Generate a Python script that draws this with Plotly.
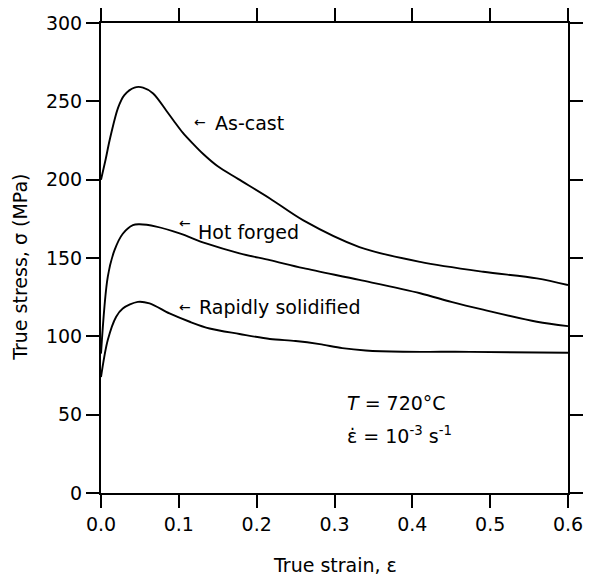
import plotly.graph_objects as go

# ---- data ----
as_cast_strain = [0.0, 0.006, 0.011, 0.022, 0.030, 0.043, 0.054, 0.067, 0.084, 0.095, 0.105, 0.118, 0.131, 0.15, 0.176, 0.217, 0.26, 0.332, 0.41, 0.491, 0.56, 0.6]
as_cast_stress = [200, 213, 225, 246, 254, 258.8, 258.8, 255, 244, 236.5, 230, 223, 216.5, 208.5, 200.5, 188, 174, 157, 147.5, 141.2, 137, 132.7]

hot_forged_strain = [0.0, 0.0087, 0.0174, 0.028, 0.041, 0.0495, 0.071, 0.101, 0.135, 0.178, 0.217, 0.26, 0.332, 0.41, 0.45, 0.491, 0.56, 0.6]
hot_forged_stress = [89, 138, 155, 165.5, 171, 171.5, 170, 165.7, 159.3, 153, 148.6, 143.5, 136, 127.5, 122, 117, 109.3, 106.5]

rapid_strain = [0.0, 0.0087, 0.0195, 0.028, 0.0473, 0.0624, 0.088, 0.114, 0.1395, 0.178, 0.217, 0.25, 0.281, 0.31, 0.34, 0.388, 0.474, 0.6]
rapid_stress = [74, 97.6, 112.5, 117.8, 122, 121, 114.6, 109.3, 105, 101.5, 98.3, 97, 95, 92.5, 91, 90.2, 90.1, 89.5]

x_ticks = [0.0, 0.1, 0.2, 0.3, 0.4, 0.5, 0.6]
y_ticks = [0, 50, 100, 150, 200, 250, 300]

FONT = "DejaVu Sans"

fig = go.Figure()
for xs, ys in [(as_cast_strain, as_cast_stress),
               (hot_forged_strain, hot_forged_stress),
               (rapid_strain, rapid_stress)]:
    fig.add_trace(go.Scatter(x=xs, y=ys, mode="lines",
                             line=dict(color="black", width=1.9, shape="spline", smoothing=0.9),
                             showlegend=False, hoverinfo="skip"))

axis_common = dict(showline=True, linecolor="black", linewidth=2, mirror="ticks",
                   ticks="outside", ticklen=13, tickwidth=2, tickcolor="black",
                   showgrid=False, zeroline=False, automargin=False,
                   tickfont=dict(family=FONT, size=19, color="black"))

fig.update_xaxes(range=[0, 0.6], tickvals=x_ticks, ticktext=[f"{v:.1f}" for v in x_ticks], **axis_common)
fig.update_yaxes(range=[0, 300], tickvals=y_ticks, ticktext=[str(v) for v in y_ticks], **axis_common)

ann_font = dict(family=FONT, size=19, color="black")
arrow_font = dict(family=FONT, size=14, color="black")
annotations = [
    dict(x=0.1438, y=236, text="As-cast", xanchor="left", yanchor="middle", font=ann_font),
    dict(x=0.1219, y=166.5, text="Hot forged", xanchor="left", yanchor="middle", font=ann_font),
    dict(x=0.1228, y=118.6, text="Rapidly solidified", xanchor="left", yanchor="middle", font=ann_font),
    dict(x=0.1268, y=236.8, text="←", xanchor="center", yanchor="middle", font=arrow_font),
    dict(x=0.1074, y=172.4, text="←", xanchor="center", yanchor="middle", font=arrow_font),
    dict(x=0.1074, y=118.8, text="←", xanchor="center", yanchor="middle", font=arrow_font),
    dict(x=0.313, y=57.4, text="<i>T</i> = 720°C", xanchor="left", yanchor="middle", font=ann_font),
    dict(x=0.313, y=37, text="ε̇ = 10<sup>-3</sup> s<sup>-1</sup>", xanchor="left", yanchor="middle", font=ann_font),
    dict(x=0.5, y=-0.153, xref="paper", yref="paper", text="True strain, ε", showarrow=False,
         xanchor="center", yanchor="middle", font=dict(family=FONT, size=19, color="black")),
    dict(x=-0.1726, y=0.48, xref="paper", yref="paper", text="True stress, σ (MPa)", showarrow=False,
         textangle=-90, xanchor="center", yanchor="middle", font=dict(family=FONT, size=19, color="black")),
]
for a in annotations:
    a.setdefault("showarrow", False)
fig.update_layout(annotations=annotations)

# the page adds an 8px body margin, so the figure is 8px smaller and margins are set for that offset
fig.update_layout(width=586, height=568,
                  margin=dict(l=93, r=26, t=15, b=83),
                  paper_bgcolor="white", plot_bgcolor="white")

fig.write_html("out.html")
